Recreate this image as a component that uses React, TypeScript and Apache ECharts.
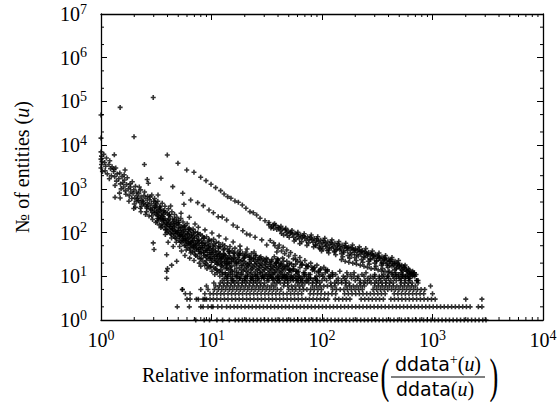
import React, { useEffect, useRef } from 'react';
import * as echarts from 'echarts';

const X_MIN = 1;
const X_MAX = 10000;
const Y_MIN = 1;
const Y_MAX = 10000000;

const xMinorTicks = [2, 3, 4, 5, 6, 7, 8, 9, 20, 30, 40, 50, 60, 70, 80, 90, 200, 300, 400, 500, 600, 700, 800, 900, 2000, 3000, 4000, 5000, 6000, 7000, 8000, 9000];
const yMinorTicks = [2, 5, 20, 50, 200, 500, 2000, 5000, 20000, 50000, 200000, 500000, 2000000, 5000000];

// isolated points
const isolatedPoints: [number, number][] = [
  [1, 49000], [1, 14500], [1.49, 73000], [2.97, 123000], [1.99, 15600], [1.32, 6000], [2.47, 3600], [1.65, 2700],
  [2.62, 1640], [2.68, 1340], [1.98, 355], [1.34, 640], [1.49, 620], [2.88, 725], [3.28, 725], [2.97, 58], [3.02, 41],
  [3.93, 31], [4.0, 15], [3.93, 13], [3.93, 9], [4.36, 18], [4.84, 22], [5.45, 5],
];

// upper dotted trail
const trailA: [number, number][] = [
  [3.98, 5970], [4.97, 3850], [5.97, 2700], [6.94, 2400], [7.98, 1840], [8.92, 1540], [9.9, 1275], [10.9, 1065],
  [12.1, 910], [13.0, 764], [14.0, 663], [15.0, 610], [16.3, 528], [17.5, 493], [19.0, 428], [20.5, 360], [22.3, 301],
  [23.9, 285], [25.6, 253], [27.5, 212], [30.5, 187], [33.1, 169], [36.3, 149], [40.2, 132],
  [33, 150], [35, 138], [36.5, 124], [38, 146], [39, 118], [37.2, 160], [34.5, 128],
];

// second and third trails
const trailB: [number, number][] = [
  [3.49, 1750], [4.46, 1122], [5.49, 793], [6.48, 557], [7.5, 483], [8.43, 413], [9.49, 329], [10.4, 285], [11.5, 231],
  [12.5, 226], [13.7, 194], [15.7, 149], [17.1, 132], [19.2, 110], [20.8, 93], [22.3, 88], [24.8, 78], [28.5, 68], [31.6, 52],
  [34, 66], [36.5, 58], [37.5, 50], [40, 44], [41, 52], [43, 38], [44.5, 46], [46, 33], [48, 40], [50, 29], [52, 35],
  [55, 25], [57, 30], [60, 22], [63, 27], [66, 19], [70, 23], [74, 17], [79, 20], [84, 15], [90, 18], [96, 14], [104, 16], [112, 13],
];
const trailC: [number, number][] = [
  [4.27, 406], [5.63, 445], [5.3, 277], [6.3, 224], [7.09, 157], [7.6, 132], [8.73, 115], [10.1, 98], [11.7, 84],
  [13.5, 71], [15.7, 61], [18.1, 49], [21, 42], [24.3, 36],
];

// main (lower-left) dense band
const lowerBand: [number, number][] = [
  [1.0, 7000], [1.01, 5600], [1.0, 4800], [1.02, 4200], [1.01, 3600], [1.0, 3000], [1.03, 2500],
  [1.06, 6200], [1.08, 4000], [1.1, 3300], [1.12, 5100], [1.09, 2600], [1.14, 2200],
  [1.18, 3600], [1.2, 4400], [1.22, 2900], [1.24, 2000], [1.19, 1700], [1.26, 3200],
  [1.3, 2500], [1.33, 1900], [1.36, 3000], [1.38, 1500], [1.34, 1200], [1.4, 2200], [1.31, 2800],
  [1.45, 1700], [1.48, 2300], [1.5, 1300], [1.52, 1000], [1.55, 1900], [1.47, 800], [1.58, 1400],
  [1.6, 1100], [1.63, 1600], [1.66, 900], [1.7, 1250], [1.68, 750], [1.73, 1800], [1.62, 2100],
  [1.77, 1000], [1.8, 700], [1.83, 1300], [1.86, 850], [1.9, 600], [1.85, 1100], [1.92, 1450], [1.79, 520],
  [1.95, 780], [1.98, 950], [2.02, 620], [2.05, 1150], [2.08, 520], [2.1, 850], [2.0, 450], [2.12, 700],
  [2.15, 600], [2.2, 800], [2.25, 480], [2.28, 950], [2.32, 400], [2.3, 650], [2.22, 1100], [2.35, 550], [2.27, 360],
  [2.4, 520], [2.45, 700], [2.5, 430], [2.55, 600], [2.6, 360], [2.48, 850], [2.62, 480], [2.58, 300], [2.65, 680],
  [2.7, 420], [2.75, 560], [2.8, 350], [2.85, 460], [2.9, 290], [2.78, 650], [2.95, 380], [2.88, 240], [3.0, 520],
  [3.05, 320], [3.1, 420], [3.15, 260], [3.2, 360], [3.25, 210], [3.12, 500], [3.3, 290], [3.22, 180],
  [3.35, 240], [3.4, 330], [3.45, 200], [3.5, 280], [3.55, 160], [3.42, 400], [3.6, 230], [3.48, 130],
  [3.65, 190], [3.7, 260], [3.75, 150], [3.8, 210], [3.85, 120], [3.72, 320], [3.9, 170], [3.95, 100], [3.82, 90],
  [4.0, 150], [4.1, 200], [4.15, 120], [4.2, 170], [4.25, 95], [4.12, 250], [4.3, 135], [4.35, 75], [4.05, 60],
  [4.45, 120], [4.5, 160], [4.55, 95], [4.6, 135], [4.7, 75], [4.65, 200], [4.75, 110], [4.8, 60], [4.5, 48],
  [4.9, 100], [5.0, 130], [5.1, 80], [5.2, 110], [5.25, 62], [5.05, 170], [5.3, 90], [5.15, 48], [5.35, 38],
  [5.45, 82], [5.55, 105], [5.6, 66], [5.7, 92], [5.8, 52], [5.65, 140], [5.85, 75], [5.9, 40], [5.75, 30],
  [6.0, 70], [6.1, 90], [6.2, 55], [6.3, 78], [6.4, 44], [6.25, 120], [6.45, 62], [6.5, 34], [6.35, 26],
  [6.6, 60], [6.7, 76], [6.8, 47], [6.9, 66], [7.0, 38], [6.85, 100], [7.1, 54], [7.2, 30], [6.95, 23],
  [7.3, 52], [7.45, 65], [7.6, 41], [7.7, 58], [7.85, 33], [7.55, 88], [7.95, 46], [8.1, 26], [7.75, 20], [8.0, 17],
  [8.2, 45], [8.35, 56], [8.5, 36], [8.65, 50], [8.8, 29], [8.45, 75], [8.9, 40], [9.0, 23], [8.7, 18], [9.1, 15],
  [9.2, 39], [9.35, 48], [9.5, 31], [9.65, 43], [9.8, 26], [9.45, 65], [9.9, 35], [10.0, 21], [9.7, 16], [10.1, 13],
  [10.2, 34], [10.4, 42], [10.6, 28], [10.8, 38], [11.0, 23], [10.5, 56], [11.1, 31], [11.2, 19], [10.9, 15], [11.3, 12],
  [11.4, 30], [11.6, 37], [11.8, 25], [12.0, 33], [12.2, 21], [11.7, 48], [12.3, 28], [12.4, 17], [12.1, 14], [12.5, 11],
  [12.7, 27], [12.9, 33], [13.1, 22], [13.4, 30], [13.6, 19], [13.0, 42], [13.7, 25], [13.8, 15], [13.3, 12], [13.9, 10],
  [14.1, 24], [14.4, 29], [14.6, 20], [14.9, 27], [15.1, 17], [14.5, 37], [15.2, 22], [15.3, 13], [14.8, 11], [15.4, 9],
  [15.7, 22], [16.0, 26], [16.2, 18], [16.5, 24], [16.8, 15], [16.1, 33], [16.9, 20], [17.0, 12], [16.4, 10],
  [17.4, 20], [17.7, 24], [18.0, 16], [18.3, 22], [18.6, 14], [17.9, 30], [18.8, 18], [18.9, 11], [18.1, 9],
  [19.3, 18], [19.7, 22], [20.0, 15], [20.4, 20], [20.7, 13], [19.9, 27], [20.9, 16], [21.1, 10], [20.2, 9],
  [21.5, 17], [22.0, 20], [22.4, 14], [22.8, 18], [23.1, 12], [22.2, 24], [23.4, 15], [23.6, 10], [22.6, 8],
  [24.0, 16], [24.5, 19], [25.0, 13], [25.5, 17], [25.9, 11], [24.8, 22], [26.2, 14], [26.5, 9],
  [26.8, 15], [27.3, 18], [27.8, 12], [28.3, 16], [28.8, 10], [27.6, 20], [29.2, 13], [29.6, 9],
  [30.0, 14], [30.6, 16], [31.2, 11], [31.8, 15], [32.4, 10], [30.9, 19], [32.8, 12],
  [33.5, 13], [34.2, 15], [34.9, 11], [35.6, 14], [36.2, 9], [34.6, 17], [36.8, 12],
  [37.5, 12], [38.3, 14], [39.2, 10], [40.0, 13], [40.8, 9], [38.9, 16], [41.5, 11],
  [42.5, 12], [43.5, 13], [44.6, 10], [45.6, 11], [46.8, 9], [44.0, 15], [47.5, 10],
  [48.5, 11], [50.0, 12], [51.5, 9], [53.0, 10], [54.5, 9], [50.8, 14],
  [56, 10], [58, 11], [60, 9], [62, 10], [64, 8], [59, 13],
  [66, 9], [69, 10], [72, 8], [75, 9], [70, 12],
  [79, 9], [83, 8], [87, 9], [91, 8],
];

// upper part of the main band
const lowerBandTop: [number, number][] = [
  [3.05, 600], [3.18, 450], [3.27, 520], [3.41, 380], [3.58, 470], [3.66, 310], [3.79, 400], [3.97, 280], [4.08, 350],
  [4.22, 230], [4.38, 300], [4.47, 205], [4.63, 260], [4.79, 170], [4.86, 225], [5.03, 190], [5.12, 150], [5.28, 210],
  [5.41, 132], [5.52, 175], [5.74, 142], [5.83, 118], [6.02, 160], [6.18, 105], [6.27, 128], [6.49, 112], [6.58, 92],
  [6.81, 120], [6.97, 86], [7.14, 104], [7.33, 80], [7.52, 99], [7.68, 70], [7.91, 92], [8.12, 66], [8.27, 84], [8.58, 74],
  [8.74, 60], [9.02, 80], [9.22, 56], [9.51, 70], [9.73, 52], [9.98, 64], [10.3, 48], [10.45, 70], [10.8, 50], [11.05, 61],
  [11.5, 44], [11.65, 58], [12.1, 47], [12.6, 54], [12.8, 40], [13.2, 50], [13.9, 43], [14.2, 37], [14.7, 48], [15.4, 39],
  [15.9, 34], [16.3, 44], [17.2, 36], [17.6, 31], [18.2, 40], [19.1, 33], [19.8, 29], [20.5, 36], [21.4, 30], [22.3, 27],
  [23.0, 33], [24.1, 26], [25.3, 30], [26.1, 24], [27.2, 27], [28.6, 23], [29.5, 25], [31.2, 21], [32.1, 24], [34.0, 19],
  [35.1, 22], [37.0, 18], [38.4, 20], [40.6, 17], [42.3, 18], [45.1, 16], [48.2, 17], [51.4, 14], [55.0, 15], [58.5, 13],
];

// core of the main band
const lowerBandCore: [number, number][] = [
  [2.05, 380], [2.18, 540], [2.3, 300], [2.42, 460], [2.53, 260], [2.61, 390], [2.72, 240], [2.83, 330], [2.93, 200],
  [3.02, 280], [3.13, 170], [3.24, 250], [3.36, 150], [3.47, 215], [3.58, 135], [3.69, 185], [3.83, 115], [3.94, 160],
  [4.06, 105], [4.18, 140], [4.32, 90], [4.42, 122], [4.58, 82], [4.68, 106], [4.84, 72], [4.96, 94], [5.12, 66], [5.24, 84],
  [5.4, 58], [5.52, 74], [5.7, 50], [5.83, 66], [6.03, 46], [6.16, 58], [6.35, 40], [6.5, 52], [6.72, 36], [6.88, 46],
  [7.08, 32], [7.25, 42], [7.5, 28], [7.66, 37], [7.9, 25], [8.08, 34], [8.36, 22], [8.55, 30], [8.83, 20], [9.05, 27],
  [9.3, 18], [9.58, 25], [9.85, 17], [10.15, 23], [10.5, 16], [10.75, 21], [11.1, 14], [11.4, 19], [11.8, 13], [12.1, 18],
  [12.6, 12], [12.9, 16], [13.4, 11], [13.8, 15], [14.3, 12], [14.9, 14], [15.5, 11], [16.1, 13], [16.9, 10], [17.6, 12],
  [18.5, 11], [19.4, 13], [20.3, 10], [21.3, 12], [22.4, 11], [23.5, 9], [24.7, 11], [26, 10], [27.4, 12], [28.9, 10],
  [30.5, 11], [32.2, 9], [34, 10], [36, 11], [38, 9], [40, 10], [43, 9], [46, 10], [49, 9], [52, 8],
  [3.08, 380], [3.21, 300], [3.33, 210], [3.44, 345], [3.56, 250], [3.68, 205], [3.81, 290], [3.92, 135], [4.03, 190],
  [4.16, 260], [4.27, 155], [4.4, 110], [4.52, 180], [4.64, 145], [4.77, 95], [4.88, 160], [5.0, 112], [5.14, 88],
  [5.26, 128], [5.38, 100], [5.51, 70], [5.63, 115], [5.77, 84], [5.92, 62], [6.07, 96], [6.22, 72], [6.38, 56], [6.55, 84],
  [6.71, 64], [6.86, 50], [7.02, 74], [7.19, 56], [7.37, 44], [7.56, 64], [7.74, 50], [7.92, 40], [8.15, 57], [8.33, 44],
  [8.52, 35], [8.72, 51], [8.95, 39], [9.15, 31], [9.42, 45], [9.63, 35], [9.88, 28], [10.12, 40], [10.38, 31], [10.63, 25],
  [10.95, 36], [11.22, 28], [11.5, 22], [11.85, 32], [12.15, 25], [12.45, 20], [12.85, 29], [13.2, 22], [13.55, 18],
  [13.95, 26], [14.35, 20], [14.8, 16],
];

// tail of the main band, just above the rows
const lowerBandTail: [number, number][] = [
  [12.3, 26], [13.1, 31], [13.9, 20], [14.6, 34], [15.2, 25], [16.0, 29], [16.7, 21], [17.3, 27], [18.1, 33], [18.9, 23],
  [19.6, 26], [20.5, 31], [21.2, 19], [22.1, 28], [22.9, 22], [23.8, 25], [24.9, 30], [25.7, 20], [26.8, 24], [27.9, 28],
  [28.9, 18], [30.1, 22], [31.4, 26], [32.5, 17], [33.8, 21], [35.2, 24], [36.6, 16], [38.2, 20], [39.8, 23], [41.3, 15],
  [43.1, 19], [44.9, 22], [46.7, 14], [48.8, 18], [50.9, 20], [53.2, 13], [55.4, 17], [57.9, 19], [60.4, 12], [63.1, 16],
  [65.8, 18], [68.7, 11], [71.6, 15], [74.9, 17], [78.2, 11], [81.7, 14], [85.3, 16], [89.1, 10], [93.2, 13], [97.4, 15],
  [102, 10], [107, 12], [112, 14], [118, 10], [124, 11],
  [15.8, 8], [17.9, 9], [19.8, 8], [22.7, 9], [25.1, 8], [28.4, 9], [31.9, 8], [35.4, 9], [39.6, 8], [44.2, 9], [48.9, 8],
  [53.7, 9], [58.6, 8], [13.6, 9], [11.9, 10], [10.7, 11],
];

// scatter between the two bands
const middleScatter: [number, number][] = [
  [37, 28], [40, 24], [42, 20], [44, 26], [46, 17], [48, 22], [50, 15], [53, 19], [55, 14], [58, 24], [61, 13], [64, 21],
  [68, 12], [72, 18], [76, 11], [81, 16], [86, 13], [93, 12], [100, 11], [108, 14], [115, 10], [124, 12], [133, 11],
  [145, 13], [156, 10], [168, 12], [182, 11], [195, 12], [212, 10], [230, 11], [250, 12], [275, 10], [300, 11], [330, 10],
  [360, 11], [395, 10], [430, 11], [470, 10], [520, 9], [570, 10], [620, 9], [39, 36], [39.5, 25], [39, 21],
  [626, 11.7], [670, 10.7], [720, 8], [740, 8],
];

// upper (right) band
const upperBand: [number, number][] = [
  [41, 128], [42, 110], [43, 95], [44, 120], [45, 88], [42.5, 140],
  [46.5, 115], [47.5, 100], [48.5, 86], [49.5, 108], [50.5, 78], [47, 125], [51.5, 95],
  [52.5, 102], [54, 90], [55.5, 78], [57, 96], [58, 70], [53.5, 112], [56, 64],
  [59.5, 92], [61, 82], [62.5, 72], [64, 88], [65.5, 62], [60.5, 102], [66.5, 77], [63, 56],
  [68, 84], [70, 75], [72, 66], [74, 80], [75.5, 58], [69, 94], [77, 70], [73, 51],
  [79, 78], [81, 68], [83, 60], [85, 73], [87, 53], [80, 88], [88.5, 64], [84, 47],
  [90, 72], [92.5, 63], [95, 55], [97.5, 67], [100, 49], [91.5, 80], [102, 59], [96, 43], [99, 38],
  [104, 66], [107, 58], [110, 51], [113, 62], [116, 45], [106, 74], [118, 54], [111, 39], [115, 34],
  [121, 60], [124, 53], [128, 47], [131, 57], [134, 41], [123, 68], [137, 50], [129, 36], [133, 31],
  [140, 55], [144, 48], [148, 43], [152, 52], [156, 38], [142, 62], [159, 46], [150, 33], [154, 28],
  [162, 50], [166, 44], [170, 39], [175, 47], [180, 34], [164, 57], [183, 42], [172, 30], [178, 26],
  [187, 45], [191, 40], [196, 35], [201, 43], [206, 31], [189, 52], [210, 38], [198, 27], [204, 23],
  [215, 41], [220, 36], [225, 32], [231, 39], [237, 28], [218, 47], [241, 34], [228, 24], [234, 21],
  [246, 37], [252, 33], [258, 29], [265, 35], [272, 25], [249, 43], [276, 31], [262, 22], [268, 19],
  [282, 33], [289, 30], [296, 26], [304, 32], [312, 23], [286, 38], [317, 28], [300, 20], [308, 17],
  [323, 30], [331, 26], [340, 23], [349, 28], [358, 20], [328, 34], [364, 25], [344, 18], [353, 15],
  [371, 27], [380, 23], [390, 20], [400, 25], [410, 18], [376, 30], [417, 22], [395, 16], [405, 13],
  [425, 24], [436, 20], [447, 18], [458, 22], [470, 15], [430, 27], [478, 19], [452, 14], [465, 12],
  [487, 20], [500, 17], [513, 15], [527, 18], [540, 13], [493, 23], [548, 16], [520, 12], [535, 11],
  [558, 16], [572, 14], [588, 13], [604, 15], [620, 12], [565, 18], [630, 11], [596, 11],
  [645, 12], [660, 13], [676, 11], [692, 10], [710, 11], [668, 12],
];

// interior and lower side of the upper band
const upperBandFill: [number, number][] = [
  [150, 24], [162, 22], [175, 21], [190, 20], [205, 19], [222, 18], [240, 17], [258, 16], [278, 15], [300, 15], [322, 14],
  [346, 13], [372, 13], [400, 12], [430, 12], [462, 11], [496, 11], [532, 10], [570, 10], [610, 9],
  [145, 40], [158, 35], [171, 45], [185, 31], [199, 40], [213, 29], [229, 37], [244, 27], [260, 32], [276, 24], [293, 29],
  [311, 22], [329, 27], [348, 20], [367, 24], [387, 18], [408, 22], [430, 17], [453, 20], [477, 16], [502, 18], [528, 14],
  [556, 16], [585, 13], [615, 14], [650, 11], [685, 12], [88, 50], [94, 45], [102, 42], [108, 48], [115, 40], [122, 44],
  [130, 38], [138, 42],
];

// rows of small integer counts
const rowCounts = [1, 2, 3, 4, 5, 6, 7, 8, 9, 10];
const row1X = [7.2, 8.6, 9.6, 11.2, 12.6, 14.5, 16.4, 17.6, 19.0, 20.6, 22.1, 23.9, 25.8, 27.9, 30.2, 32.6, 35.2, 38.0, 41.1, 44.4, 48.0, 51.8, 56.0, 60.5, 65.3, 70.5, 76.2, 82.3, 88.9, 96.0, 104, 112, 121, 131, 141, 152, 165, 178, 192, 207, 224, 242, 261, 282, 305, 329, 356, 384, 415, 448, 484, 523, 565, 610, 659, 712, 769, 830, 897, 969, 1046, 1130, 1220, 1318, 1424, 1538, 1661, 1794, 1937, 2092, 2260, 2440, 2635, 2850, 3050];
const row2X = [4.9, 6.3, 8.0, 8.4, 9.3, 10.0, 10.3, 11.4, 12.4, 13.7, 14.8, 16.0, 17.2, 18.6, 20.1, 21.7, 23.4, 25.3, 27.3, 29.5, 31.9, 34.4, 37.2, 40.1, 43.3, 46.8, 50.5, 54.6, 59.0, 63.7, 68.8, 74.3, 80.2, 86.6, 93.5, 101, 109, 118, 127, 137, 148, 160, 173, 187, 202, 218, 235, 254, 274, 296, 320, 345, 373, 403, 435, 470, 507, 548, 592, 639, 690, 745, 805, 869, 939, 1014, 1095, 1183, 1277, 1380, 1490, 1609, 1738, 1877, 2027, 2190, 2600, 2800];
const row3X = [6.0, 6.4, 7.3, 7.6, 8.4, 8.7, 9.0, 9.7, 10.4, 11.2, 12.1, 13.1, 14.1, 15.3, 16.5, 17.8, 19.2, 20.8, 22.4, 24.2, 26.2, 28.3, 30.5, 33.0, 35.6, 38.4, 41.5, 44.8, 48.4, 52.3, 56.5, 61.0, 65.9, 71.2, 76.9, 83.0, 89.7, 96.8, 104.6, 113, 132, 142, 154, 166, 179, 226, 244, 264, 285, 308, 332, 359, 420, 453, 490, 529, 571, 617, 666, 719, 777, 839, 906, 979, 1057, 2000, 2800];
const row4X = [5.8, 6.4, 8.7, 9.7, 10.4, 11.2, 12.1, 13.0, 14.1, 15.2, 16.4, 17.7, 19.1, 20.7, 22.3, 24.1, 26.0, 28.1, 30.4, 32.8, 35.4, 38.2, 41.3, 44.6, 48.2, 52.0, 56.2, 60.7, 65.5, 78, 84, 91, 98, 106, 114, 123, 133, 160, 173, 187, 202, 218, 235, 254, 274, 296, 320, 345, 373, 450, 486, 525, 567, 612, 661, 714, 771, 833, 1000];
const row5X = [5.45, 8.0, 9.3, 10.6, 11.5, 12.4, 13.4, 14.5, 15.6, 16.9, 18.2, 19.7, 21.3, 23.0, 24.8, 26.8, 28.9, 31.2, 33.7, 36.4, 39.3, 42.5, 50, 54, 58, 63, 68, 73, 79, 85, 92, 99, 125, 135, 146, 158, 170, 184, 199, 215, 232, 290, 313, 338, 365, 394, 426, 460, 497, 537, 580, 626, 676, 730, 788, 851];
const row6X = [9.0, 10.9, 11.8, 12.8, 13.8, 14.9, 16.1, 17.4, 18.8, 20.3, 21.9, 23.7, 25.6, 27.6, 29.8, 32.2, 34.8, 37.6, 45, 49, 53, 57, 62, 67, 82, 89, 96, 104, 112, 121, 131, 165, 178, 192, 207, 224, 242, 300, 324, 350, 378, 408, 441, 476, 514, 555, 600, 648, 700, 960];
const row7X = [10.5, 12.0, 13.0, 14.0, 15.1, 16.3, 17.6, 19.0, 20.5, 22.2, 24.0, 25.9, 28.0, 30.2, 36, 39, 42, 45.5, 49, 60, 65, 70, 76, 82, 88.5, 95.5, 120, 130, 140, 151, 163, 176, 220, 238, 257, 278, 300, 324, 350, 378, 408, 441, 520, 561, 606, 655, 740];
const row8X = [12.5, 14.0, 15.5, 17.0, 19.0, 21.0, 24.0, 27.0, 33, 37, 41, 46, 55, 61, 67, 74, 90, 100, 110, 135, 150, 165, 200, 222, 245, 270, 310, 340, 380, 420, 470, 515, 570, 625, 720];
const row9X = [13, 15, 18, 20, 23, 26, 30, 35, 40, 48, 58, 64, 78, 87, 105, 118, 140, 160, 185, 210, 260, 290, 330, 365, 400, 450, 500, 560, 610];
const row10X = [14, 17, 21, 25, 29, 34, 44, 52, 62, 72, 95, 125, 170, 195, 240, 300, 350, 390, 440, 490, 540, 600, 660];
const rowXs = [row1X, row2X, row3X, row4X, row5X, row6X, row7X, row8X, row9X, row10X];

const SERIF = '"Liberation Serif", "Times New Roman", serif';
const SANS = '"DejaVu Sans", "Liberation Sans", sans-serif';
const PLUS = 'path://M3.4,0H6.6V3.4H10V6.6H6.6V10H3.4V6.6H0V3.4H3.4Z';

export default function App() {
  const ref = useRef<HTMLDivElement>(null);
  useEffect(() => {
    if (!ref.current) return;
    const chart = echarts.init(ref.current, undefined, { renderer: 'svg' });

    const rowPoints: [number, number][] = [];
    rowXs.forEach((xs, i) => xs.forEach((x) => rowPoints.push([x, rowCounts[i]])));
    const allPoints = [
      ...rowPoints, ...lowerBand, ...lowerBandTop, ...lowerBandCore, ...lowerBandTail, ...middleScatter, ...upperBand,
      ...upperBandFill, ...trailA, ...trailB, ...trailC, ...isolatedPoints,
    ];

    const fmt = (v: number) => `{b|10}{s|${Math.round(Math.log10(v))}}`;
    const labelRich = {
      b: { fontFamily: SERIF, fontSize: 20, color: '#000', lineHeight: 22 },
      s: { fontFamily: SERIF, fontSize: 14, color: '#000', padding: [0, 0, 10, 0] },
    };
    const line = { show: true, onZero: false, lineStyle: { color: '#000', width: 1.3 } };
    const tick = { show: true, inside: true, length: 6, lineStyle: { color: '#000', width: 1 } };

    const xBase = { type: 'log', logBase: 10, min: X_MIN, max: X_MAX, splitNumber: 4, axisLine: line, axisTick: tick, splitLine: { show: false }, minorTick: { show: false } };
    const yBase = { type: 'log', logBase: 10, min: Y_MIN, max: Y_MAX, splitNumber: 7, axisLine: line, axisTick: tick, splitLine: { show: false }, minorTick: { show: false } };

    const tickStyle = { stroke: '#000', lineWidth: 1 };
    const renderXMinor = (params: any, api: any) => {
      const v = api.value(0);
      const b = api.coord([v, Y_MIN]);
      const t = api.coord([v, Y_MAX]);
      return {
        type: 'group',
        children: [
          { type: 'line', shape: { x1: b[0], y1: b[1], x2: b[0], y2: b[1] - 3 }, style: tickStyle },
          { type: 'line', shape: { x1: t[0], y1: t[1], x2: t[0], y2: t[1] + 3 }, style: tickStyle },
        ],
      };
    };
    const renderYMinor = (params: any, api: any) => {
      const v = api.value(1);
      const l = api.coord([X_MIN, v]);
      const r = api.coord([X_MAX, v]);
      return {
        type: 'group',
        children: [
          { type: 'line', shape: { x1: l[0], y1: l[1], x2: l[0] + 3, y2: l[1] }, style: tickStyle },
          { type: 'line', shape: { x1: r[0], y1: r[1], x2: r[0] - 3, y2: r[1] }, style: tickStyle },
        ],
      };
    };

    chart.setOption({
      animation: false,
      backgroundColor: '#fff',
      grid: { left: 101, right: 17, top: 14, bottom: 82, containLabel: false, outerBoundsMode: 'none' },
      xAxis: [
        { ...xBase, position: 'bottom', axisLabel: { formatter: fmt, margin: 8, rich: labelRich } },
        { ...xBase, position: 'top', axisLabel: { show: false } },
      ],
      yAxis: [
        {
          ...yBase, position: 'left',
          axisLabel: { formatter: fmt, margin: 14, rich: labelRich },
          name: '№ of entities ({i|u})', nameLocation: 'middle', nameRotate: 90, nameGap: 69,
          nameTextStyle: { fontFamily: SERIF, fontSize: 20, color: '#000', rich: { i: { fontFamily: SERIF, fontSize: 20, fontStyle: 'italic', color: '#000' } } },
        },
        { ...yBase, position: 'right', axisLabel: { show: false } },
      ],
      series: [
        {
          type: 'scatter', xAxisIndex: 0, yAxisIndex: 0, data: allPoints, symbol: PLUS, symbolSize: 5,
          itemStyle: { color: '#000' }, silent: true,
        },
        { type: 'custom', xAxisIndex: 0, yAxisIndex: 0, renderItem: renderXMinor, data: xMinorTicks.map((v) => [v, Y_MIN]), silent: true, clip: false, z: 5 },
        { type: 'custom', xAxisIndex: 0, yAxisIndex: 0, renderItem: renderYMinor, data: yMinorTicks.map((v) => [X_MIN, v]), silent: true, clip: false, z: 5 },
      ],
      graphic: [
        { type: 'text', x: 142, y: 375, style: { text: 'Relative information increase', font: `20px ${SERIF}`, fill: '#000', verticalAlign: 'middle' } },
        { type: 'text', x: 385, y: 375, scaleX: 0.55, style: { text: '(', font: `48px ${SERIF}`, fill: '#000', align: 'center', verticalAlign: 'middle' } },
        { type: 'text', x: 494, y: 375, scaleX: 0.55, style: { text: ')', font: `48px ${SERIF}`, fill: '#000', align: 'center', verticalAlign: 'middle' } },
        {
          type: 'text', x: 438, y: 364,
          style: {
            text: '{sf|ddata}{sup|+}{rm|(}{it|u}{rm|)}', align: 'center', verticalAlign: 'middle',
            rich: {
              sf: { fontFamily: SANS, fontSize: 19, fill: '#000' },
              sup: { fontFamily: SERIF, fontSize: 14, fill: '#000', padding: [0, 0, 9, 0] },
              rm: { fontFamily: SERIF, fontSize: 20, fill: '#000' },
              it: { fontFamily: SERIF, fontSize: 20, fontStyle: 'italic', fill: '#000' },
            },
          },
        },
        { type: 'line', shape: { x1: 391, y1: 377, x2: 485, y2: 377 }, style: { stroke: '#000', lineWidth: 1 } },
        {
          type: 'text', x: 435, y: 389,
          style: {
            text: '{sf|ddata}{rm|(}{it|u}{rm|)}', align: 'center', verticalAlign: 'middle',
            rich: {
              sf: { fontFamily: SANS, fontSize: 19, fill: '#000' },
              rm: { fontFamily: SERIF, fontSize: 20, fill: '#000' },
              it: { fontFamily: SERIF, fontSize: 20, fontStyle: 'italic', fill: '#000' },
            },
          },
        },
      ],
    });
    return () => chart.dispose();
  }, []);
  return <div ref={ref} style={{ position: 'absolute', left: 0, top: 0, width: 560, height: 402 }} />;
}
